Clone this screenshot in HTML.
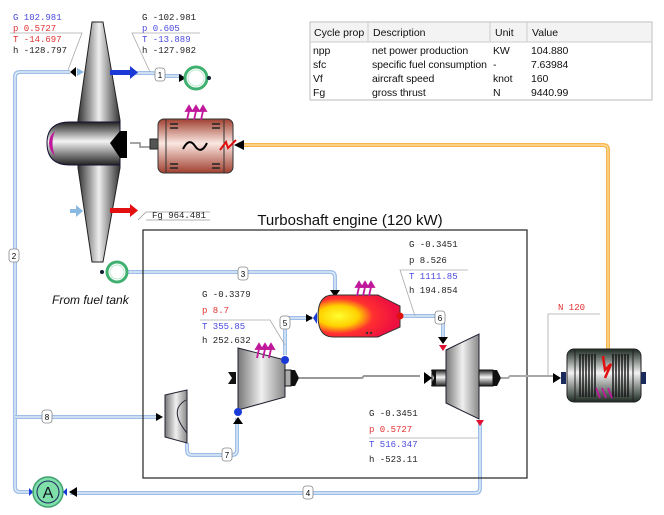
<!DOCTYPE html>
<html><head><meta charset="utf-8"><style>
body{margin:0;background:#fff;}
svg{display:block;}
.m{font-family:"Liberation Mono",monospace;font-size:9px;}
.s{font-family:"Liberation Sans",sans-serif;}
.fl{fill:none;stroke:#9fbfe8;stroke-width:4;}
.fi{fill:none;stroke:#eaf2fc;stroke-width:1.2;}
.lb{fill:#fff;stroke:#888;stroke-width:0.8;}
</style></head><body>
<svg width="664" height="515" viewBox="0 0 664 515" xmlns="http://www.w3.org/2000/svg">
<defs>
<linearGradient id="gv" x1="0" x2="1" y1="0" y2="0"><stop offset="0" stop-color="#333"/><stop offset="0.5" stop-color="#eee"/><stop offset="1" stop-color="#333"/></linearGradient>
<linearGradient id="gh" x1="0" x2="0" y1="0" y2="1"><stop offset="0" stop-color="#222"/><stop offset="0.45" stop-color="#f4f4f4"/><stop offset="1" stop-color="#222"/></linearGradient>
<linearGradient id="gc" x1="0" x2="1" y1="0" y2="0"><stop offset="0" stop-color="#777"/><stop offset="0.5" stop-color="#f0f0f0"/><stop offset="1" stop-color="#888"/></linearGradient>
<linearGradient id="gr" x1="0" x2="0" y1="0" y2="1"><stop offset="0" stop-color="#a04030"/><stop offset="0.45" stop-color="#fbe8e2"/><stop offset="1" stop-color="#a04030"/></linearGradient>
<linearGradient id="gg" x1="0" x2="0" y1="0" y2="1"><stop offset="0" stop-color="#1d2a22"/><stop offset="0.45" stop-color="#f2f2f2"/><stop offset="1" stop-color="#1d2a22"/></linearGradient>
<radialGradient id="gf" cx="0.25" cy="0.5" r="0.7"><stop offset="0" stop-color="#ffff30"/><stop offset="0.35" stop-color="#ffd000"/><stop offset="0.6" stop-color="#ff3030"/><stop offset="1" stop-color="#ee1040"/></radialGradient>
</defs>

<g>
<path class="fl" d="M70,72 H20 Q15,72 15,77 V487 Q15,492 20,492 H32"/>
<path class="fi" d="M70,72 H20 Q15,72 15,77 V487 Q15,492 20,492 H32"/>
<path class="fl" d="M15,417 H160"/><path class="fi" d="M15,417 H160"/>
<path class="fl" d="M70,493 H475 Q480,493 480,488 V422"/><path class="fi" d="M70,493 H475 Q480,493 480,488 V422"/>
<path class="fl" d="M135,73 H150 Q160,73 160,76 H182"/><path class="fi" d="M135,73 H150 Q160,73 160,76 H182"/>
<path class="fl" d="M128,272 H330 Q335,272 335,277 V290"/><path class="fi" d="M128,272 H330 Q335,272 335,277 V290"/>
<path class="fl" d="M285,355 V323 Q285,318 290,318 H312"/><path class="fi" d="M285,355 V323 Q285,318 290,318 H312"/>
<path class="fl" d="M403,316 H438 Q443,316 443,321 V340"/><path class="fi" d="M403,316 H438 Q443,316 443,321 V340"/>
<path class="fl" d="M187,443 V450 Q187,455 192,455 H232 Q237,455 237,450 V418"/><path class="fi" d="M187,443 V450 Q187,455 192,455 H232 Q237,455 237,450 V418"/>
</g>
<path d="M242,145 H603 Q608,145 608,150 V372" fill="none" stroke="#f7b54c" stroke-width="4"/>
<path d="M242,145 H603 Q608,145 608,150 V372" fill="none" stroke="#fde0a8" stroke-width="1.2"/>
<polygon points="234,145 244,140 244,150" fill="#000"/>

<g class="s" font-size="8" text-anchor="middle">
<rect class="lb" x="155" y="68" width="10" height="13" rx="3"/><text x="160" y="78">1</text>
<rect class="lb" x="9" y="249" width="10" height="13" rx="3"/><text x="14" y="259">2</text>
<rect class="lb" x="238" y="267" width="10" height="13" rx="3"/><text x="243" y="277">3</text>
<rect class="lb" x="303" y="486" width="10" height="13" rx="3"/><text x="308" y="496">4</text>
<rect class="lb" x="280" y="316" width="10" height="13" rx="3"/><text x="285" y="326">5</text>
<rect class="lb" x="435" y="311" width="10" height="13" rx="3"/><text x="440" y="321">6</text>
<rect class="lb" x="222" y="448" width="10" height="13" rx="3"/><text x="227" y="458">7</text>
<rect class="lb" x="42" y="410" width="10" height="13" rx="3"/><text x="47" y="420">8</text>
</g>

<polygon points="70,72 76,67 76,77" fill="#000"/>
<polygon points="77,68 84,72 77,76" fill="#8ab8e0"/>
<path d="M92,22 H103 L120,120 V168 L103,262 H92 L78,168 V120 Z" fill="url(#gv)" stroke="#222" stroke-width="1"/>
<path d="M120,122 H70 Q47,122 47,143 Q47,165 70,165 H120 Z" fill="url(#gh)" stroke="#113" stroke-width="1"/>
<path d="M55,131 Q50,143 55,156 Q49,150 49,143 Q49,136 55,131Z" fill="#c0189a"/>
<polygon points="110,143 120,131 127,131 127,158 120,158" fill="#000"/>
<rect x="110" y="70" width="22" height="5" fill="#1a3ad8"/><polygon points="130,66 138,72.5 130,79" fill="#1a3ad8"/>
<rect x="70" y="209" width="8" height="4" fill="#8ab8e0"/><polygon points="76,205 83,211 76,217" fill="#8ab8e0"/>
<rect x="110" y="208" width="22" height="5" fill="#e21010"/><polygon points="130,204 138,210.5 130,217" fill="#e21010"/>
<path d="M138,220 L146,212 H210 M146,220 H210" fill="none" stroke="#999" stroke-width="0.8"/>
<text class="m" x="152" y="218" fill="#222">Fg 964.481</text>

<path d="M10,33 H82 L68,70" fill="none" stroke="#aaa" stroke-width="0.8"/>
<text class="m" x="13" y="20" fill="#4a4adc">G 102.981</text>
<text class="m" x="13" y="31" fill="#e03030">p 0.5727</text>
<text class="m" x="13" y="42" fill="#e03030">T -14.697</text>
<text class="m" x="13" y="53" fill="#222">h -128.797</text>
<path d="M200,33 H132 L150,72" fill="none" stroke="#aaa" stroke-width="0.8"/>
<text class="m" x="142" y="20" fill="#222">G -102.981</text>
<text class="m" x="142" y="31" fill="#4a4adc">p 0.605</text>
<text class="m" x="142" y="42" fill="#4a4adc">T -13.889</text>
<text class="m" x="142" y="53" fill="#222">h -127.982</text>

<polygon points="179,74 186,78 179,82" fill="#000"/>
<circle cx="196" cy="78" r="11" fill="#fff" stroke="#40b070" stroke-width="3"/>
<circle cx="196" cy="78" r="8" fill="none" stroke="#bfe8cf" stroke-width="1"/>
<circle cx="209" cy="78" r="2" fill="#123"/>

<path d="M130,143 H140 V147 H150" fill="none" stroke="#888" stroke-width="1.5"/>
<rect x="150" y="139" width="8" height="10" fill="#555" stroke="#222"/>
<rect x="158" y="119" width="75" height="54" rx="6" fill="url(#gr)" stroke="#333"/>
<path d="M166,119 V173 M224,119 V173" stroke="#333"/>
<g stroke="#222" stroke-width="1.5"><path d="M170,124 H178 M170,128 H178 M212,124 H220 M212,128 H220 M170,164 H178 M170,168 H178 M212,164 H220 M212,168 H220"/></g>
<path d="M183,149 Q189,137 195,146 Q201,155 207,143" fill="none" stroke="#000" stroke-width="2"/>
<path d="M220,150 L226,142 L228,148 L236,140" fill="none" stroke="#e01010" stroke-width="2"/>
<g stroke="#c0189a" stroke-width="1.8" fill="#c0189a"><path d="M187,120 L189,111 M194,120 L196,111 M201,120 L203,111"/><polygon points="186,111 189,106 192,111"/><polygon points="193,111 196,106 199,111"/><polygon points="200,111 203,106 206,111"/></g>

<rect x="310" y="22" width="342" height="78" fill="#fff" stroke="#bbb"/>
<rect x="311" y="23" width="340" height="19" fill="#f3f3f3"/>
<path d="M310,42 H652 M368,22 V42 M490,22 V42 M527,22 V42" stroke="#ccc"/>
<g class="s" font-size="10.5" fill="#111">
<text x="314" y="36">Cycle prop</text><text x="373" y="36">Description</text><text x="495" y="36">Unit</text><text x="532" y="36">Value</text>
</g>
<g class="s" font-size="10.5" fill="#111" letter-spacing="-0.1">
<text x="313" y="54">npp</text><text x="372" y="54">net power production</text><text x="493" y="54">KW</text><text x="531" y="54">104.880</text>
<text x="313" y="68">sfc</text><text x="372" y="68">specific fuel consumption</text><text x="493" y="68">-</text><text x="531" y="68">7.63984</text>
<text x="313" y="82">Vf</text><text x="372" y="82">aircraft speed</text><text x="493" y="82">knot</text><text x="531" y="82">160</text>
<text x="313" y="96">Fg</text><text x="372" y="96">gross thrust</text><text x="493" y="96">N</text><text x="531" y="96">9440.99</text>
</g>

<rect x="143" y="230" width="384" height="248" fill="none" stroke="#222" stroke-width="1.2"/>
<text class="s" x="350" y="225" font-size="15" text-anchor="middle" fill="#111">Turboshaft engine (120 kW)</text>
<text class="s" x="52" y="304" font-size="12" font-style="italic" fill="#111">From fuel tank</text>

<circle cx="102" cy="272" r="2" fill="#123"/>
<circle cx="117" cy="272" r="10" fill="#fff" stroke="#40b070" stroke-width="3"/>
<circle cx="117" cy="272" r="7" fill="none" stroke="#bfe8cf"/>

<polygon points="330,290 340,290 335,297" fill="#000"/>
<path d="M335,298 L331,300 H339Z" fill="#6a2ad8"/>
<path d="M333,295 H378 L400,306 V327 L378,337 H333 Q318,337 318,316 Q318,295 333,295Z" fill="url(#gf)" stroke="#333"/>
<circle cx="400" cy="316" r="3.5" fill="#e01010"/>
<circle cx="367" cy="333" r="1.2" fill="#333"/><circle cx="371" cy="333" r="1.2" fill="#333"/>
<g stroke="#c0189a" stroke-width="1.8" fill="#c0189a"><path d="M357,296 L359,287 M363,296 L365,287 M369,296 L371,287"/><polygon points="356,287 359,282 362,287"/><polygon points="362,287 365,282 368,287"/><polygon points="368,287 371,282 374,287"/></g>
<polygon points="306,314 313,318 306,322" fill="#000"/>
<path d="M317,312 L313,318 L317,324Z" fill="#1a3ad8"/>

<polygon points="228,372 236,372 236,384 228,384 232,378" fill="#111"/>
<polygon points="238,348 285,360 285,397 238,410" fill="url(#gc)" stroke="#223" stroke-width="1"/>
<rect x="285" y="370" width="6" height="16" fill="#aaa" stroke="#111"/>
<polygon points="291,370 295,370 299,378 295,386 291,386" fill="#111"/>
<circle cx="285" cy="360" r="4" fill="#1a3ad8"/>
<circle cx="238" cy="412" r="4" fill="#1a3ad8"/>
<polygon points="233,424 243,424 238,417" fill="#000"/>
<g stroke="#c0189a" stroke-width="1.8" fill="#c0189a"><path d="M257,358 L259,349 M263,358 L265,349 M269,358 L271,349"/><polygon points="256,349 259,344 262,349"/><polygon points="262,349 265,344 268,349"/><polygon points="268,349 271,344 274,349"/></g>

<path d="M299,378 H362 L364,376 H420" fill="none" stroke="#999" stroke-width="2"/>
<polygon points="424,372 432,378 424,384" fill="#000"/>
<rect x="432" y="370" width="14" height="16" fill="url(#gh)" stroke="#111"/>
<polygon points="431,370 436,370 436,386 431,386 434,378" fill="#111"/>

<polygon points="446,350 479,334 479,419 446,403" fill="url(#gc)" stroke="#223"/>
<rect x="479" y="370" width="14" height="16" fill="url(#gh)" stroke="#111"/>
<polygon points="493,370 497,370 501,378 497,386 493,386" fill="#111"/>
<path d="M501,378 H508 L510,376 H556" fill="none" stroke="#aaa" stroke-width="2"/>
<polygon points="438,337 448,337 443,344" fill="#000"/>
<path d="M439,345 H447 L443,351Z" fill="#e01030"/>
<path d="M476,420 H484 L480,426Z" fill="#e01030"/>

<polygon points="156,413 163,417 156,421" fill="#000"/>
<polygon points="165,395 187,390 187,443 165,437" fill="url(#gc)" stroke="#223"/>
<path d="M186,400 Q168,410 187,433" fill="none" stroke="#223" stroke-width="1"/>

<path d="M200,320 H270 L285,345" fill="none" stroke="#aaa" stroke-width="0.8"/>
<text class="m" x="202" y="297" fill="#222">G -0.3379</text>
<text class="m" x="202" y="313" fill="#e03030">p 8.7</text>
<text class="m" x="202" y="329" fill="#4a4adc">T 355.85</text>
<text class="m" x="202" y="343" fill="#222">h 252.632</text>
<path d="M468,270 H400 L415,316" fill="none" stroke="#aaa" stroke-width="0.8"/>
<text class="m" x="409" y="247" fill="#222">G -0.3451</text>
<text class="m" x="409" y="263" fill="#222">p 8.526</text>
<text class="m" x="409" y="279" fill="#4a4adc">T 1111.85</text>
<text class="m" x="409" y="293" fill="#222">h 194.854</text>
<path d="M369,438 H478" fill="none" stroke="#aaa" stroke-width="0.8"/>
<text class="m" x="369" y="416" fill="#222">G -0.3451</text>
<text class="m" x="369" y="432" fill="#e03030">p 0.5727</text>
<text class="m" x="369" y="447" fill="#4a4adc">T 516.347</text>
<text class="m" x="369" y="462" fill="#222">h -523.11</text>

<path d="M600,314 H548 V375" fill="none" stroke="#aaa" stroke-width="0.8"/>
<text class="m" x="558" y="310" fill="#e03030">N 120</text>
<polygon points="553,373 561,378 553,383" fill="#000"/>
<path d="M561,372 H566 V384 H561 Z" fill="#1a2a5a"/>
<rect x="567" y="349" width="74" height="53" rx="7" fill="url(#gg)" stroke="#222"/>
<path d="M575,349 V402 M633,349 V402" stroke="#222"/>
<g stroke="#111" stroke-width="1.4"><path d="M580,354 V397 M583,354 V397 M586,354 V397 M589,354 V397 M592,354 V397 M595,354 V397 M613,354 V397 M616,354 V397 M619,354 V397 M622,354 V397 M625,354 V397 M628,354 V397"/></g>
<path d="M603,356 L605,370 L611,364 L605,378" fill="none" stroke="#e01010" stroke-width="2.5"/>
<g stroke="#c0189a" stroke-width="1.8"><path d="M596,388 L600,398 M602,388 L606,398 M608,388 L612,398"/></g>
<path d="M641,372 H646 V384 H641Z" fill="#1a2a5a"/>

<path d="M29,488 L33,492 L29,496Z" fill="#1a3ad8"/>
<circle cx="48" cy="492" r="15" fill="#7ee0a8" stroke="#40a070" stroke-width="1.5"/>
<circle cx="48" cy="492" r="11" fill="none" stroke="#226" stroke-width="1"/>
<text class="s" x="48" y="498" font-size="16" text-anchor="middle" fill="#112">A</text>
<path d="M67,488 L63,492 L67,496Z" fill="#1a3ad8"/>
<polygon points="69,492 77,487 77,497" fill="#000"/>
</svg>
</body></html>
